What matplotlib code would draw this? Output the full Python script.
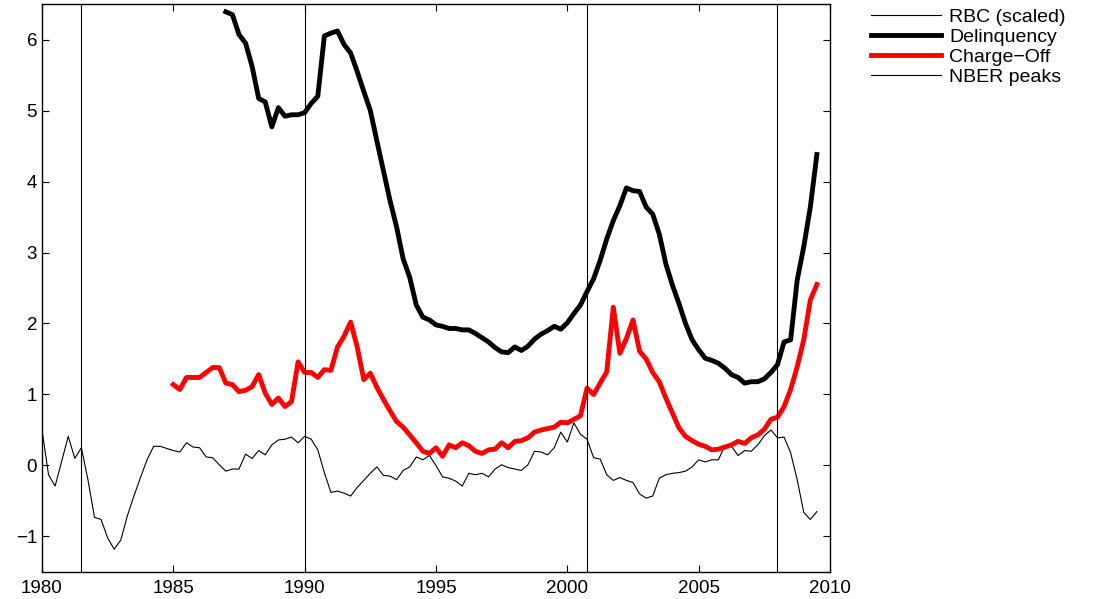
import numpy as np
import matplotlib
matplotlib.use("Agg")
import matplotlib.pyplot as plt

plt.rcParams['font.family'] = ['Liberation Sans', 'DejaVu Sans']

# series trimestrales
rbc_start = 1980.0
rbc = [0.50, -0.13, -0.29, 0.06,
       0.41, 0.10, 0.25, -0.20,
       -0.73, -0.76, -1.02, -1.18,
       -1.05, -0.71, -0.43, -0.17,
       0.08, 0.27, 0.27, 0.24,
       0.21, 0.19, 0.32, 0.26,
       0.25, 0.12, 0.11, 0.01,
       -0.08, -0.05, -0.05, 0.16,
       0.10, 0.21, 0.15, 0.29,
       0.36, 0.37, 0.40, 0.32,
       0.41, 0.37, 0.22, -0.10,
       -0.38, -0.36, -0.39, -0.43,
       -0.31, -0.21, -0.11, -0.02,
       -0.14, -0.15, -0.20, -0.07,
       -0.02, 0.12, 0.08, 0.14,
       0.00, -0.16, -0.18, -0.22,
       -0.29, -0.11, -0.13, -0.11,
       -0.16, -0.05, 0.01, -0.03,
       -0.05, -0.07, 0.01, 0.20,
       0.19, 0.15, 0.25, 0.47,
       0.33, 0.60, 0.44, 0.37,
       0.11, 0.09, -0.13, -0.21,
       -0.17, -0.21, -0.24, -0.40,
       -0.46, -0.43, -0.18, -0.13,
       -0.11, -0.10, -0.08, -0.02,
       0.08, 0.05, 0.08, 0.08,
       0.28, 0.27, 0.14, 0.21,
       0.20, 0.29, 0.42, 0.50,
       0.39, 0.40, 0.18, -0.20,
       -0.66, -0.76, -0.65]

delinq_start = 1987.0
delinq = [6.39, 6.35, 6.07, 5.95,
          5.62, 5.17, 5.12, 4.77,
          5.04, 4.92, 4.94, 4.94,
          4.97, 5.10, 5.20, 6.05,
          6.09, 6.12, 5.93, 5.81,
          5.55, 5.27, 5.00, 4.57,
          4.15, 3.73, 3.36, 2.91,
          2.65, 2.26, 2.09, 2.05,
          1.98, 1.96, 1.93, 1.93,
          1.91, 1.91, 1.86, 1.80,
          1.74, 1.66, 1.60, 1.59,
          1.67, 1.62, 1.68, 1.78,
          1.85, 1.90, 1.96, 1.92,
          2.01, 2.14, 2.26, 2.45,
          2.63, 2.89, 3.19, 3.45,
          3.66, 3.91, 3.87, 3.86,
          3.64, 3.54, 3.26, 2.84,
          2.54, 2.28, 2.00, 1.77,
          1.63, 1.51, 1.48, 1.44,
          1.37, 1.28, 1.24, 1.16,
          1.18, 1.18, 1.22, 1.31,
          1.42, 1.74, 1.77, 2.61,
          3.08, 3.64, 4.38]

chargeoff_start = 1985.0
chargeoff = [1.14, 1.07, 1.24, 1.24,
             1.24, 1.31, 1.38, 1.38,
             1.16, 1.14, 1.04, 1.06,
             1.11, 1.28, 1.02, 0.86,
             0.95, 0.83, 0.90, 1.46,
             1.31, 1.31, 1.24, 1.35,
             1.34, 1.67, 1.82, 2.02,
             1.67, 1.21, 1.30, 1.10,
             0.93, 0.77, 0.62, 0.54,
             0.43, 0.32, 0.20, 0.17,
             0.25, 0.13, 0.29, 0.25,
             0.32, 0.28, 0.20, 0.17,
             0.22, 0.23, 0.32, 0.25,
             0.34, 0.35, 0.39, 0.47,
             0.50, 0.52, 0.54, 0.61,
             0.60, 0.65, 0.70, 1.09,
             1.00, 1.16, 1.32, 2.23,
             1.58, 1.79, 2.05, 1.61,
             1.50, 1.31, 1.18, 0.95,
             0.74, 0.53, 0.41, 0.35,
             0.30, 0.27, 0.22, 0.23,
             0.26, 0.29, 0.34, 0.31,
             0.39, 0.43, 0.51, 0.65,
             0.68, 0.83, 1.07, 1.39,
             1.77, 2.33, 2.55]

nber_peaks = [1981.5, 1990.0, 2000.75, 2008.0]

xticks = [1980, 1985, 1990, 1995, 2000, 2005, 2010]
yticks = [-1, 0, 1, 2, 3, 4, 5, 6]


def quarters(start, vals):
    return start + 0.25 * np.arange(len(vals))


fig = plt.figure(figsize=(10.93, 5.99), dpi=100)
ax = fig.add_axes([0.0384, 0.0451, 0.7210, 0.9482])

ax.plot(quarters(rbc_start, rbc), rbc, color='black', lw=0.8, label='RBC (scaled)')
ax.plot(quarters(delinq_start, delinq), delinq, color='black', lw=3.5, label='Delinquency')
ax.plot(quarters(chargeoff_start, chargeoff), chargeoff, color='red', lw=3.5, label='Charge\u2212Off')
for i, p in enumerate(nber_peaks):
    ax.axvline(p, color='black', lw=0.8, label='NBER peaks' if i == 0 else None)

ax.set_xlim(1980, 2010)
ax.set_ylim(-1.5, 6.5)
ax.set_xticks(xticks)
ax.set_yticks(yticks)
ax.tick_params(direction='in', top=True, right=True, length=5, width=0.8,
               labelsize=13.5, colors='black')
ax.tick_params(axis='x', pad=6)
for s in ax.spines.values():
    s.set_linewidth(1.0)

leg = ax.legend(loc='upper left', bbox_to_anchor=(0.7935, 0.993), bbox_transform=fig.transFigure,
                frameon=False, fontsize=14, handlelength=3.6, handletextpad=0.4,
                labelspacing=0.13, borderpad=0.2, borderaxespad=0)

fig.savefig('out.png', dpi=100)
